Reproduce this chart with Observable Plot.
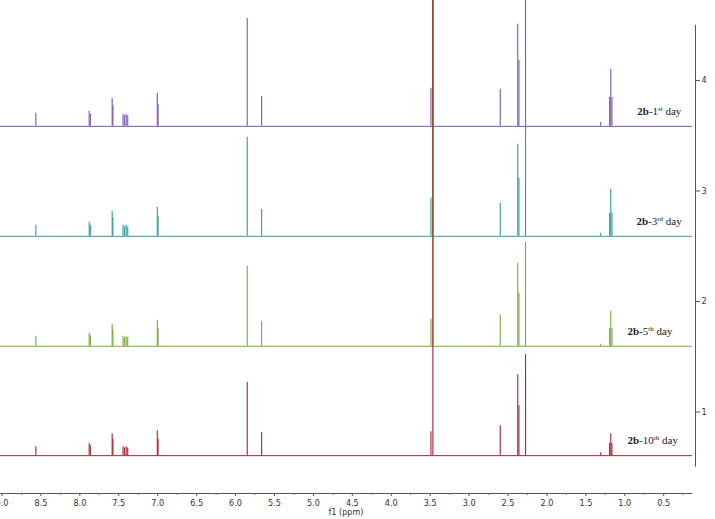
<!DOCTYPE html>
<html><head><meta charset="utf-8">
<script src="https://cdn.jsdelivr.net/npm/d3@7"></script>
<script src="https://cdn.jsdelivr.net/npm/@observablehq/plot@0.6"></script>
<style>body{margin:0;background:#fff} #chart svg{overflow:visible}</style>
</head><body><div id="chart"></div>
<script>
// series (stacked spectra, top to bottom)
const dayNumbers = ["1", "3", "5", "10"];
const daySuffixes = ["st", "rd", "th", "th"];
const colors = ["#7d55ab", "#2f9c9c", "#78a83c", "#a2262e"];
const offsets = [3.585, 2.59, 1.595, 0.605];

// chemical shifts of the resolved lines (ppm)
const shifts = [8.565, 7.88, 7.865, 7.585, 7.575, 7.445, 7.425, 7.405, 7.385,
  7.005, 6.995, 5.85, 5.665, 3.49, 3.465, 2.60, 2.375, 2.36, 2.275, 1.31, 1.195, 1.18, 1.165];

// intensities (y-axis units) per spectrum, same order as shifts
const int1st  = [0.118, 0.136, 0.11, 0.253, 0.19, 0.109, 0.095, 0.109, 0.095,
  0.299, 0.2, 0.977, 0.271, 0.344, 5, 0.335, 0.923, 0.597, 1.27, 0.036, 0.262, 0.516, 0.262];
const int3rd  = [0.10, 0.127, 0.10, 0.226, 0.17, 0.10, 0.085, 0.10, 0.085,
  0.262, 0.18, 0.896, 0.244, 0.344, 5, 0.299, 0.833, 0.525, 1.068, 0.027, 0.208, 0.425, 0.208];
const int5th  = [0.09, 0.118, 0.095, 0.199, 0.15, 0.09, 0.077, 0.09, 0.077,
  0.235, 0.16, 0.724, 0.226, 0.244, 5, 0.281, 0.751, 0.48, 0.941, 0.018, 0.163, 0.317, 0.163];
const int10th = [0.081, 0.109, 0.09, 0.199, 0.15, 0.081, 0.07, 0.081, 0.07,
  0.226, 0.15, 0.661, 0.208, 0.217, 5, 0.271, 0.733, 0.452, 0.914, 0.027, 0.109, 0.199, 0.109];
const intensities = [int1st, int3rd, int5th, int10th];

// tick labels
const xTicks = [9.0, 8.5, 8.0, 7.5, 7.0, 6.5, 6.0, 5.5, 5.0, 4.5, 4.0, 3.5, 3.0, 2.5, 2.0, 1.5, 1.0, 0.5];
const xMinorTicks = [8.75, 8.25, 7.75, 7.25, 6.75, 6.25, 5.75, 5.25, 4.75, 4.25, 3.75, 3.25, 2.75, 2.25, 1.75, 1.25, 0.75, 0.25];
const yTicks = [1, 2, 3, 4];

const spectra = offsets.map((o, i) => ({i, offset: o, color: colors[i],
  label: `2b-${dayNumbers[i]}${daySuffixes[i]} day`}));
const peaks = [];
intensities.forEach((arr, i) => arr.forEach((h, j) =>
  peaks.push({i, shift: shifts[j], base: offsets[i], top: offsets[i] + h, color: colors[i]})));

const X0 = 9.0193, X1 = 0.0918, Y0 = 0.2624, Y1 = 4.724;
const axisFont = "'DejaVu Sans Condensed', 'DejaVu Sans', sans-serif";

const chart = Plot.plot({
  width: 715, height: 519,
  marginTop: 0, marginLeft: 0, marginRight: 20, marginBottom: 26,
  x: {domain: [X0, X1], axis: null, label: null},
  y: {domain: [Y0, Y1], axis: null, label: null},
  color: {type: "identity"},
  style: {fontFamily: axisFont, fontSize: "9px", color: "#333", background: "#fff"},
  marks: [
    Plot.ruleY(spectra, {y: "offset", x1: X0, x2: 0.13, stroke: "color", strokeWidth: 1}),
    Plot.ruleX(peaks, {x: "shift", y1: "base", y2: "top", stroke: "color", strokeWidth: 1.1, clip: true}),
    Plot.ruleY([Y0], {x1: X0, x2: 0.127, stroke: "#555"}),
    Plot.axisX(xTicks, {anchor: "bottom", label: null, tickSize: 3, tickPadding: 3, tickFormat: d3.format(".1f"), stroke: "#555", fill: "#333"}),
    Plot.axisX(xMinorTicks, {anchor: "bottom", label: null, tickSize: 2, tickFormat: () => "", stroke: "#777"}),
    Plot.ruleX([X1], {y1: 0.5, y2: 4.5, stroke: "#555"}),
    Plot.axisY(yTicks, {anchor: "right", label: null, tickSize: 4, tickPadding: 2, tickFormat: d3.format("d"), stroke: "#555", fill: "#333"}),
    Plot.text(["f1 (ppm)"], {frameAnchor: "bottom", dx: -2, dy: 21, fill: "#333"}),
    Plot.text(spectra, {
      x: (d, i) => [0.84, 0.85, 0.965, 0.965][i],
      y: d => d.offset + 0.135,
      text: "label", textAnchor: "start",
      fontFamily: "'Liberation Serif', 'Times New Roman', serif", fontSize: 11, fill: "#222"
    })
  ]
});
document.getElementById("chart").appendChild(chart);

// rich formatting of the series labels (bold compound id, superscript ordinal)
chart.querySelectorAll("text").forEach(t => {
  const m = /^2b-(\d+)(st|rd|th) day$/.exec(t.textContent);
  if (!m) return;
  const ns = "http://www.w3.org/2000/svg";
  while (t.firstChild) t.removeChild(t.firstChild);
  const parts = [["2b", {"font-weight": "bold"}], ["-" + m[1], {}],
    [m[2], {"font-size": "7", dy: "-4"}], [" day", {dy: "4"}]];
  for (const [s, attrs] of parts) {
    const ts = document.createElementNS(ns, "tspan");
    for (const k in attrs) ts.setAttribute(k, attrs[k]);
    ts.textContent = s;
    t.appendChild(ts);
  }
});
</script>
</body></html>
